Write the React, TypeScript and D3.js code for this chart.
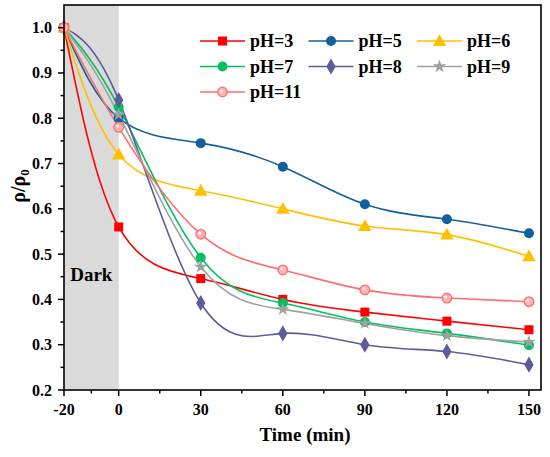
import React, { useEffect, useRef } from 'react';
import * as d3 from 'd3';

// time points (min)
const times = [-20, 0, 30, 60, 90, 120, 150];

// rho/rho0 per pH
const pH3 = [1.0, 0.56, 0.446, 0.4, 0.372, 0.352, 0.333];
const pH5 = [1.0, 0.8, 0.745, 0.693, 0.61, 0.577, 0.546];
const pH6 = [1.0, 0.72, 0.64, 0.6, 0.562, 0.543, 0.495];
const pH7 = [1.0, 0.825, 0.492, 0.392, 0.35, 0.325, 0.299];
const pH8 = [1.0, 0.84, 0.392, 0.325, 0.3, 0.285, 0.256];
const pH9 = [1.0, 0.808, 0.472, 0.378, 0.347, 0.32, 0.306];
const pH11 = [1.0, 0.78, 0.544, 0.465, 0.421, 0.403, 0.395];

const xTicks = [-20, 0, 30, 60, 90, 120, 150];
const yTicks = [0.2, 0.3, 0.4, 0.5, 0.6, 0.7, 0.8, 0.9, 1.0];

const series = [
  { name: 'pH=3', values: pH3, color: '#ff0000', marker: 'square' },
  { name: 'pH=5', values: pH5, color: '#11609e', marker: 'circle' },
  { name: 'pH=6', values: pH6, color: '#ffc000', marker: 'triangle' },
  { name: 'pH=7', values: pH7, color: '#00c060', marker: 'circle' },
  { name: 'pH=8', values: pH8, color: '#5c5c9c', marker: 'diamond' },
  { name: 'pH=9', values: pH9, color: '#a0a0a0', marker: 'star' },
  { name: 'pH=11', values: pH11, color: '#ff6e6e', marker: 'sphere' },
];

const FONT = '"Liberation Serif", "Times New Roman", serif';

function drawMarker(g: any, kind: string, x: number, y: number, color: string) {
  if (kind === 'square') {
    g.append('rect').attr('x', x - 4.5).attr('y', y - 4.5).attr('width', 9).attr('height', 9).attr('fill', color);
  } else if (kind === 'circle') {
    g.append('circle').attr('cx', x).attr('cy', y).attr('r', 5).attr('fill', color);
  } else if (kind === 'triangle') {
    g.append('path').attr('d', d3.symbol(d3.symbolTriangle, 80)()).attr('transform', `translate(${x},${y + 1})`).attr('fill', color);
  } else if (kind === 'diamond') {
    g.append('path').attr('d', d3.symbol(d3.symbolDiamond, 75)()).attr('transform', `translate(${x},${y})`).attr('fill', color);
  } else if (kind === 'star') {
    g.append('path').attr('d', d3.symbol(d3.symbolStar, 55)()).attr('transform', `translate(${x},${y})`).attr('fill', color);
  } else if (kind === 'sphere') {
    g.append('circle').attr('cx', x).attr('cy', y).attr('r', 4.8).attr('fill', '#ffb3b3').attr('stroke', color).attr('stroke-width', 1.3);
    g.append('circle').attr('cx', x - 1.2).attr('cy', y - 1.2).attr('r', 1.5).attr('fill', '#ffffff').attr('opacity', 0.8);
  }
}

export default function App() {
  const svgRef = useRef<SVGSVGElement>(null);

  useEffect(() => {
    if (!svgRef.current) return;
    const W = 550;
    const H = 457;
    const margin = { top: 5, right: 9, bottom: 67, left: 64 };
    const width = W - margin.left - margin.right;
    const height = H - margin.top - margin.bottom;

    d3.select(svgRef.current).selectAll('*').remove();
    const svg = d3.select(svgRef.current).attr('width', W).attr('height', H);
    const g = svg.append('g').attr('transform', `translate(${margin.left},${margin.top})`);

    const x = d3.scaleLinear().domain([-20, 154.4]).range([0, width]);
    const y = d3.scaleLinear().domain([0.2, 1.05]).range([height, 0]);

    // dark period
    g.append('rect')
      .attr('x', x(-20)).attr('y', 0)
      .attr('width', x(0) - x(-20)).attr('height', height)
      .attr('fill', '#dadada');

    g.append('text')
      .attr('x', (x(-20) + x(0)) / 2).attr('y', y(0.441))
      .attr('text-anchor', 'middle')
      .style('font-family', FONT).style('font-weight', 'bold').style('font-size', '19px')
      .text('Dark');

    // curves
    const line = d3.line<number>()
      .x((_, i) => x(times[i]))
      .y(d => y(d))
      .curve(d3.curveNatural);

    series.forEach(s => {
      g.append('path')
        .datum(s.values)
        .attr('fill', 'none')
        .attr('stroke', s.color)
        .attr('stroke-width', 1.6)
        .attr('d', line);
    });
    series.forEach(s => {
      s.values.forEach((v, i) => drawMarker(g, s.marker, x(times[i]), y(v), s.color));
    });

    // frame
    g.append('rect').attr('x', 0).attr('y', 0).attr('width', width).attr('height', height)
      .attr('fill', 'none').attr('stroke', '#000').attr('stroke-width', 1.6);

    // x axis ticks
    const xMinor = [-10, 15, 45, 75, 105, 135];
    const xAxis = g.append('g').attr('transform', `translate(0,${height})`);
    xTicks.forEach(t => {
      xAxis.append('line').attr('x1', x(t)).attr('x2', x(t)).attr('y1', 0).attr('y2', 6).attr('stroke', '#000').attr('stroke-width', 1.5);
      xAxis.append('text').attr('x', x(t)).attr('y', 25).attr('text-anchor', 'middle')
        .style('font-family', FONT).style('font-weight', 'bold').style('font-size', '16px').text(String(t));
    });
    xMinor.forEach(t => {
      xAxis.append('line').attr('x1', x(t)).attr('x2', x(t)).attr('y1', 0).attr('y2', 3.5).attr('stroke', '#000').attr('stroke-width', 1.5);
    });

    // y axis ticks
    const yAxis = g.append('g');
    yTicks.forEach(t => {
      yAxis.append('line').attr('x1', 0).attr('x2', -6).attr('y1', y(t)).attr('y2', y(t)).attr('stroke', '#000').attr('stroke-width', 1.5);
      yAxis.append('text').attr('x', -12).attr('y', y(t) + 5.5).attr('text-anchor', 'end')
        .style('font-family', FONT).style('font-weight', 'bold').style('font-size', '16px').text(t.toFixed(1));
    });
    d3.range(0.25, 1.05, 0.1).forEach(t => {
      yAxis.append('line').attr('x1', 0).attr('x2', -3.5).attr('y1', y(t)).attr('y2', y(t)).attr('stroke', '#000').attr('stroke-width', 1.5);
    });

    // axis titles
    svg.append('text').attr('x', 305).attr('y', 441).attr('text-anchor', 'middle')
      .style('font-family', FONT).style('font-weight', 'bold').style('font-size', '19px').text('Time (min)');

    const yt = svg.append('text').attr('transform', 'translate(25,186) rotate(-90)').attr('text-anchor', 'middle')
      .style('font-family', FONT).style('font-weight', 'bold').style('font-size', '20px');
    yt.append('tspan').text('ρ/ρ');
    yt.append('tspan').attr('dy', 4).style('font-size', '13px').text('0');

    // legend
    const legend = svg.append('g');
    series.forEach((s, i) => {
      const col = i % 3;
      const row = Math.floor(i / 3);
      const lx = 200 + col * 108.5;
      const ly = 41 + row * 25.5;
      legend.append('line').attr('x1', lx).attr('x2', lx + 45).attr('y1', ly).attr('y2', ly)
        .attr('stroke', s.color).attr('stroke-width', 1.6);
      drawMarker(legend, s.marker, lx + 22.5, ly, s.color);
      legend.append('text').attr('x', lx + 50).attr('y', ly + 6)
        .style('font-family', FONT).style('font-weight', 'bold').style('font-size', '18px').text(s.name);
    });
  }, []);

  return <svg ref={svgRef} style={{ display: 'block', position: 'absolute', left: 0, top: 0 }} />;
}
